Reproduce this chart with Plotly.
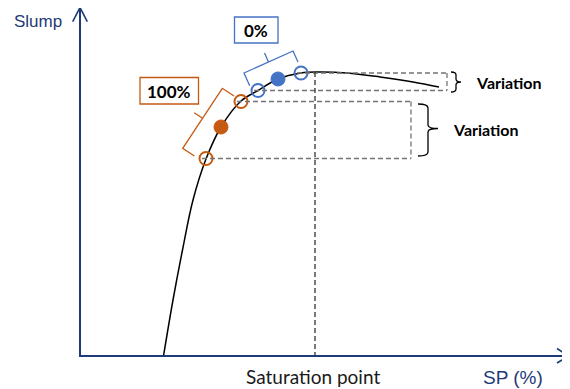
import plotly.graph_objects as go

# ---- data (diagram coordinates: x to the right, y downward) ----
curve_x = [163.5, 173, 182.5, 193, 206, 221, 241, 258, 278, 301, 318, 347, 380, 413, 439]
curve_y = [356, 300, 250, 200, 159, 127, 101, 90.5, 79, 73, 72, 73, 77, 82, 87]

orange_open_x = [206, 241]
orange_open_y = [158.5, 101.5]
orange_fill_x = [221]
orange_fill_y = [127]
blue_open_x = [258, 301]
blue_open_y = [90.5, 73]
blue_fill_x = [278]
blue_fill_y = [79]

saturation_x = 315
box1_right = 447
box2_right = 411

labels_pct = ["0%", "100%"]
axis_labels = ["Slump", "SP (%)"]
bottom_label = "Saturation point"
variation_label = "Variation"

BLUE = "#4472C4"
ORANGE = "#C55A11"
NAVY = "#1F3A78"
GRAY = "#737373"
DARK = "#333333"

fig = go.Figure()

fig.add_trace(go.Scatter(x=curve_x, y=curve_y, mode="lines",
                         line=dict(color="black", width=1.5, shape="spline", smoothing=1.0),
                         hoverinfo="skip", showlegend=False))

# dashed guide lines
dash = "5px,3px"
def dline(x0, y0, x1, y1, color=GRAY):
    fig.add_shape(type="line", x0=x0, y0=y0, x1=x1, y1=y1, xref="x", yref="y",
                  line=dict(color=color, width=1.3, dash=dash), layer="above")

dline(blue_open_x[1] - 4, blue_open_y[1], box1_right, blue_open_y[1])
dline(blue_open_x[0] - 4, blue_open_y[0], box1_right, blue_open_y[0])
dline(box1_right, blue_open_y[1], box1_right, blue_open_y[0])
dline(orange_open_x[1] - 4, orange_open_y[1], box2_right, orange_open_y[1])
dline(orange_open_x[0] - 4, orange_open_y[0], box2_right, orange_open_y[0])
dline(box2_right, orange_open_y[1], box2_right, orange_open_y[0])
dline(saturation_x, 72, saturation_x, 356, DARK)

# markers
fig.add_trace(go.Scatter(x=orange_open_x, y=orange_open_y, mode="markers",
                         marker=dict(size=13, color="rgba(255,255,255,0)", line=dict(color=ORANGE, width=2)),
                         hoverinfo="skip", showlegend=False))
fig.add_trace(go.Scatter(x=blue_open_x, y=blue_open_y, mode="markers",
                         marker=dict(size=13, color="rgba(255,255,255,0)", line=dict(color=BLUE, width=2)),
                         hoverinfo="skip", showlegend=False))
fig.add_trace(go.Scatter(x=orange_fill_x, y=orange_fill_y, mode="markers",
                         marker=dict(size=14, color=ORANGE, line=dict(color=ORANGE, width=1)),
                         hoverinfo="skip", showlegend=False))
fig.add_trace(go.Scatter(x=blue_fill_x, y=blue_fill_y, mode="markers",
                         marker=dict(size=14, color=BLUE, line=dict(color=BLUE, width=1)),
                         hoverinfo="skip", showlegend=False))

# axes with arrows
fig.add_shape(type="path", path="M 80,7.5 L 80,356 L 568,356", xref="x", yref="y",
              line=dict(color=NAVY, width=2))
fig.add_shape(type="path", path="M 72.7,21.7 L 80,7.5 L 87.3,21.7", xref="x", yref="y",
              line=dict(color=NAVY, width=1.6))
fig.add_shape(type="path", path="M 557,348.5 L 568.5,356 L 557,363", xref="x", yref="y",
              line=dict(color=NAVY, width=1.6))

# brackets
fig.add_shape(type="path", path="M 249.7,85.7 L 244,73 L 293,51 L 298,62 M 268.5,62 L 264.5,53",
              xref="x", yref="y", line=dict(color=BLUE, width=1.3))
fig.add_shape(type="path", path="M 234,96 L 222.3,88.3 L 182.7,148.3 L 194.4,156 M 202.5,118.3 L 194.2,112.8",
              xref="x", yref="y", line=dict(color=ORANGE, width=1.3))

# curly braces
fig.add_shape(type="path",
              path="M 451,72 Q 456,72 456,75 L 456,79 Q 456,82 461,82 Q 456,82 456,85 L 456,89 Q 456,92 451,92",
              xref="x", yref="y", line=dict(color="black", width=1.3))
fig.add_shape(type="path",
              path="M 418,104 Q 428,104 428,108 L 428,125 Q 428,128.5 438,128.5 Q 428,128.5 428,132 L 428,152 Q 428,156 418,156",
              xref="x", yref="y", line=dict(color="black", width=1.3))

# label boxes
fig.add_shape(type="rect", x0=234.5, y0=17, x1=278, y1=43, xref="x", yref="y",
              line=dict(color=BLUE, width=1.3), fillcolor="white")
fig.add_shape(type="rect", x0=140, y0=77.5, x1=198.5, y1=104, xref="x", yref="y",
              line=dict(color=ORANGE, width=1.3), fillcolor="white")

def txt(x, y, s, size, family, color="black", bold=False):
    fig.add_annotation(x=x, y=y, xref="x", yref="y", text=("<b>%s</b>" % s) if bold else s,
                       showarrow=False, xanchor="center", yanchor="middle",
                       font=dict(size=size, family=family, color=color))

txt(256.3, 30.5, labels_pct[0], 17, "Lato", bold=True)
txt(169.3, 91, labels_pct[1], 17, "Lato", bold=True)
txt(509, 82, variation_label, 16, "Lato", bold=True)
txt(485.5, 129, variation_label, 16, "Lato", bold=True)
txt(37.5, 21, axis_labels[0], 17, "Liberation Sans", color=NAVY)
txt(513, 377, axis_labels[1], 19, "Liberation Sans", color=NAVY)
txt(313, 376.5, bottom_label, 19, "Lato", color="#1a1a1a")

# the page body has an 8px margin: map diagram coordinates onto page pixels
fig.update_layout(width=562, height=381, margin=dict(l=0, r=0, t=0, b=0),
                  plot_bgcolor="white", paper_bgcolor="white", showlegend=False,
                  xaxis=dict(range=[8, 570], visible=False, fixedrange=True),
                  yaxis=dict(range=[389, 8], visible=False, fixedrange=True))

fig.write_html("out.html")
